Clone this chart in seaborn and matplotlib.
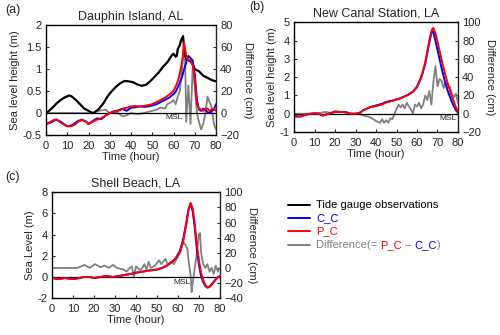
import numpy as np
import pandas as pd
import matplotlib
matplotlib.use("Agg")
import matplotlib.pyplot as plt
import seaborn as sns
from matplotlib.lines import Line2D

# --- (a) Dauphin Island, AL ---
a_obs_t = [0, 1, 3, 5, 7, 9, 11, 12, 14, 16, 18, 20, 22, 23, 25, 27, 29, 31, 33, 35, 37, 39, 41, 43, 45, 47,
           49, 51, 53, 55, 57, 58, 59, 60, 61, 61.5, 62, 63, 63.5, 64.5, 65, 66, 67, 68, 69, 70, 72, 74, 76, 78, 80]
a_obs = [0.0, 0.03, 0.12, 0.22, 0.3, 0.36, 0.4, 0.38, 0.3, 0.2, 0.1, 0.05, 0.0, 0.02, 0.1, 0.22, 0.38, 0.5, 0.6,
         0.68, 0.73, 0.72, 0.7, 0.65, 0.62, 0.64, 0.72, 0.82, 0.92, 1.05, 1.15, 1.22, 1.3, 1.35, 1.28, 1.3, 1.45,
         1.55, 1.65, 1.75, 1.45, 1.22, 1.2, 1.18, 1.1, 1.0, 0.95, 0.85, 0.8, 0.75, 0.72]
a_t = [0, 2, 4, 5, 7, 9, 10, 12, 14, 15, 17, 19, 20, 22, 24, 26, 28, 30, 32, 34, 36, 38, 40, 42, 44, 46, 48, 50,
       52, 54, 56, 58, 60, 61, 62, 63, 64, 65, 66, 67, 68, 69, 70, 71, 72, 73, 74, 75, 76, 77, 78, 79, 80]
a_cc = [-0.25, -0.22, -0.17, -0.15, -0.2, -0.27, -0.3, -0.28, -0.22, -0.18, -0.15, -0.2, -0.25, -0.18, -0.12,
        -0.14, -0.06, 0.0, 0.04, 0.06, 0.09, 0.05, 0.12, 0.13, 0.15, 0.14, 0.15, 0.17, 0.2, 0.25, 0.3, 0.35, 0.43,
        0.48, 0.58, 0.7, 0.82, 1.0, 1.15, 1.3, 1.25, 1.2, 0.9, 0.3, 0.08, 0.05, 0.1, 0.08, 0.02, 0.0, 0.05, 0.08, 0.2]
a_pc = [-0.25, -0.2, -0.15, -0.15, -0.22, -0.28, -0.3, -0.3, -0.25, -0.2, -0.16, -0.2, -0.25, -0.2, -0.15,
        -0.12, -0.06, 0.0, 0.03, 0.05, 0.1, 0.12, 0.15, 0.16, 0.15, 0.16, 0.18, 0.2, 0.25, 0.3, 0.35, 0.42, 0.5,
        0.6, 0.72, 0.9, 1.15, 1.6, 1.3, 1.2, 1.2, 1.1, 0.8, 0.2, 0.1, 0.08, 0.05, 0.1, 0.1, 0.05, 0.08, 0.1, 0.05]
a_dt = [0, 20, 22, 25, 28, 30, 32, 34, 36, 38, 40, 43, 46, 48, 50, 52, 54, 56, 57, 59, 60, 61, 62, 63, 64, 65,
        65.5, 66, 67, 68, 69, 70, 71, 72, 73, 74, 75, 76, 77, 78, 79, 80]
a_diff = [0, 0, 0, 2, 3, 0, 1, 0, -3, -2, 0, -1, 0, 1, 2, 3, 5, 4, 8, 10, 12, 8, 15, 20, 40, 60, 45, -8, 25,
          -10, 40, 25, 0, -8, -15, -10, 0, 15, 10, 5, -10, -15]

# --- (b) New Canal Station, LA ---
b_t = [0, 3, 6, 8, 10, 12, 14, 17, 20, 23, 25, 28, 30, 32, 34, 37, 40, 43, 45, 48, 52, 55, 58, 60, 62, 64, 65,
       66, 67, 67.5, 68, 69, 70, 71, 72, 73, 74, 75, 76, 77, 78, 79, 80]
b_cc = [-0.15, -0.15, -0.05, 0.0, 0.02, 0.0, -0.1, 0.0, 0.1, 0.1, 0.08, 0.0, 0.0, 0.05, 0.2, 0.35, 0.45, 0.55,
        0.65, 0.72, 0.85, 1.0, 1.2, 1.45, 1.95, 2.7, 3.3, 3.9, 4.4, 4.55, 4.45, 4.0, 3.5, 3.0, 2.5, 2.05, 1.6,
        1.25, 0.95, 0.65, 0.4, 0.2, 0.05]
b_pc = [-0.15, -0.15, -0.05, 0.0, 0.02, 0.0, -0.1, 0.0, 0.1, 0.1, 0.08, 0.0, 0.0, 0.05, 0.2, 0.35, 0.42, 0.5,
        0.62, 0.7, 0.85, 1.0, 1.2, 1.5, 2.0, 2.8, 3.4, 4.0, 4.5, 4.65, 4.7, 4.4, 3.95, 3.45, 2.95, 2.5, 2.05,
        1.65, 1.3, 0.95, 0.65, 0.35, 0.1]
b_dt = [0, 10, 13, 15, 18, 20, 22, 25, 28, 32, 34, 36, 38, 40, 42, 43, 44, 45, 46, 47, 48, 49, 50, 51, 52, 53,
        54, 55, 56, 57, 58, 59, 60, 61, 62, 63, 64, 65, 66, 67, 68, 69, 70, 71, 72, 73, 74, 75, 76, 77, 78, 79, 80]
b_diff = [0, 0, 1, 2, 1, 3, 2, 2, 0, 0, -2, -3, -5, -8, -10, -6, -10, -7, -10, -5, -6, 0, 5, 10, 7, 10, 6, 12,
          8, 5, 0, 10, 8, 12, 6, 10, 20, 15, 25, 10, 35, 52, 30, 38, 36, 28, 35, 28, 30, 22, 18, 22, 12]

# --- (c) Shell Beach, LA ---
c_t = [0, 3, 6, 10, 13, 15, 18, 20, 23, 26, 29, 32, 35, 38, 40, 43, 46, 50, 53, 55, 57, 59, 61, 62.5, 64, 65,
       66, 67, 68, 69, 70, 71, 72, 73, 74, 75, 76, 77, 78, 79, 80]
c_cc = [-0.1, -0.2, -0.1, -0.2, -0.1, 0.0, 0.0, -0.1, 0.0, 0.1, 0.0, 0.1, 0.2, 0.3, 0.4, 0.5, 0.6, 0.7, 0.9,
        1.1, 1.4, 1.8, 2.5, 3.6, 5.2, 6.4, 6.9, 6.2, 4.6, 2.6, 1.1, 0.1, -0.5, -0.85, -1.0, -0.9, -0.7, -0.45,
        -0.2, 0.0, 0.05]
c_pc = [-0.1, -0.2, -0.1, -0.2, -0.1, 0.0, 0.0, -0.1, 0.0, 0.1, 0.0, 0.1, 0.2, 0.3, 0.4, 0.5, 0.6, 0.7, 0.9,
        1.1, 1.4, 1.8, 2.4, 3.4, 5.0, 6.3, 7.0, 6.5, 5.0, 3.0, 1.5, 0.4, -0.3, -0.75, -1.0, -0.95, -0.75, -0.5,
        -0.25, 0.0, 0.05]
c_dt = [0, 12, 14, 15.5, 18, 20.5, 23, 25, 27, 29, 31, 34, 35.5, 37, 38, 39, 40, 42, 43, 44, 45, 46, 47, 49,
        51, 52, 54, 55, 57, 58, 59, 61, 62, 63, 64.5, 65, 66, 66.5, 67, 68, 69, 70, 70.5, 71, 72, 73, 74, 75, 76,
        77, 78, 79, 80]
c_diff = [0, 0, 2, 4, 0, 5, 1, 3, 0, 4, 0, -2, -5, 0, 2, -12, 2, -3, 0, 5, -2, 8, 0, 3, 10, 5, 12, 5, 8, 5, 10,
          20, 30, 33, 25, 10, -10, -32, -20, 0, 20, 45, 46, 20, 5, 0, 5, -5, 0, -8, 3, -5, 0]

panels = [
    dict(pos=[0.092, 0.597, 0.34, 0.328], title="Dauphin Island, AL", tag="(a)", tagx=-0.24, ylab="Sea level height (m)",
         ylim=(-0.5, 2), yticks=[-0.5, 0, 0.5, 1, 1.5, 2], ytl=["-0.5", "0", "0.5", "1", "1.5", "2"],
         rlim=(-20, 80), rticks=[-20, 0, 20, 40, 60, 80],
         obs=(a_obs_t, a_obs), t=a_t, cc=a_cc, pc=a_pc, dt=a_dt, diff=a_diff, msl=(60, -0.03)),
    dict(pos=[0.588, 0.606, 0.328, 0.327], title="New Canal Station, LA", tag="(b)", tagx=-0.27, ylab="Sea level height (m)",
         ylim=(-1, 5), yticks=[-1, 0, 1, 2, 3, 4, 5], ytl=["-1", "0", "1", "2", "3", "4", "5"],
         rlim=(-20, 100), rticks=[-20, 0, 20, 40, 60, 80, 100],
         obs=None, t=b_t, cc=b_cc, pc=b_pc, dt=b_dt, diff=b_diff, msl=(75, -0.08)),
    dict(pos=[0.104, 0.110, 0.336, 0.316], title="Shell Beach, LA", tag="(c)", tagx=-0.28, ylab="Sea Level (m)",
         ylim=(-2, 8), yticks=[-2, 0, 2, 4, 6, 8], ytl=["-2", "0", "2", "4", "6", "8"],
         rlim=(-40, 100), rticks=[-40, -20, 0, 20, 40, 60, 80, 100],
         obs=None, t=c_t, cc=c_cc, pc=c_pc, dt=c_dt, diff=c_diff, msl=(62, -0.15)),
]

sns.set_style("ticks")
plt.rcParams['font.family'] = ['Liberation Sans', 'DejaVu Sans']
plt.rcParams['xtick.direction'] = 'in'
plt.rcParams['ytick.direction'] = 'in'

fig = plt.figure(figsize=(5, 3.35), dpi=100)
fs = 8
gray = "#808080"

for p in panels:
    ax = fig.add_axes(p["pos"])
    ax2 = ax.twinx()
    # difference on the right axis, drawn below
    sns.lineplot(x=p["dt"], y=p["diff"], ax=ax2, color=gray, lw=1.3)
    ax2.set_ylim(*p["rlim"])
    ax2.set_yticks(p["rticks"])
    ax2.tick_params(labelsize=fs, length=2.5, width=0.8, pad=3)
    ax2.set_ylabel("Difference (cm)", rotation=270, labelpad=10, fontsize=fs)
    ax.set_zorder(ax2.get_zorder() + 1)
    ax.patch.set_visible(False)

    ax.axhline(0, color="black", lw=0.9, zorder=1)
    if p["obs"] is not None:
        sns.lineplot(x=p["obs"][0], y=p["obs"][1], ax=ax, color="black", lw=1.6)
    sns.lineplot(x=p["t"], y=p["cc"], ax=ax, color="blue", lw=1.4)
    sns.lineplot(x=p["t"], y=p["pc"], ax=ax, color="red", lw=1.4)
    ax.set_xlim(0, 80)
    ax.set_ylim(*p["ylim"])
    ax.set_xticks(range(0, 81, 10))
    ax.set_yticks(p["yticks"])
    ax.set_yticklabels(p["ytl"])
    ax.tick_params(labelsize=fs, length=2.5, width=0.8, pad=4)
    ax.tick_params(axis="y", pad=3)
    ax.set_xlabel("Time (hour)", fontsize=fs, labelpad=1)
    ax.set_ylabel(p["ylab"], fontsize=fs, labelpad=2)
    ax.set_title(p["title"], fontsize=9, pad=4)
    ax.text(p["msl"][0], p["msl"][1], "MSL", fontsize=6, ha="center", va="top", color="#222222")
    for s in ["left", "bottom", "top"]:
        ax.spines[s].set_linewidth(1.0)
        ax.spines[s].set_color("black")
    ax2.spines["right"].set_color("#555555")
    ax2.spines["right"].set_linewidth(1.0)
    for s in ["left", "bottom", "top"]:
        ax2.spines[s].set_visible(False)
    ax.text(p["tagx"], 1.14, p["tag"], transform=ax.transAxes, fontsize=9, ha="left", va="center")

# legend, drawn by hand so the last label can be multi-coloured
leg_rows = [("Tide gauge observations", "black"), ("C_C", "blue"), ("P_C", "red"), ("Difference(= ", gray)]
leg_y = [0.388, 0.349, 0.309, 0.268]
for (lab, col), y in zip(leg_rows, leg_y):
    fig.add_artist(Line2D([0.576, 0.62], [y, y], color=col, lw=1.4, transform=fig.transFigure))
    t = fig.text(0.632, y, lab, color=col, fontsize=fs, va="center", ha="left")

fig.canvas.draw()
renderer = fig.canvas.get_renderer()
x = t.get_window_extent(renderer).x1 / fig.bbox.width
for s, col in [("P_C", "red"), (" \u2013 ", gray), ("C_C", "blue"), (")", gray)]:
    piece = fig.text(x, leg_y[-1], s, color=col, fontsize=fs, va="center", ha="left")
    x = piece.get_window_extent(renderer).x1 / fig.bbox.width

fig.savefig("out.png", dpi=100)
